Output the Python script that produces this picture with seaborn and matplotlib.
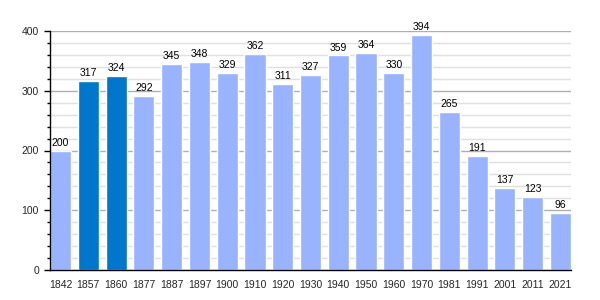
import matplotlib
matplotlib.use("Agg")
import matplotlib.pyplot as plt
import seaborn as sns
import pandas as pd
from matplotlib.ticker import MultipleLocator

years = ["1842", "1857", "1860", "1877", "1887", "1897", "1900", "1910", "1920", "1930",
         "1940", "1950", "1960", "1970", "1981", "1991", "2001", "2011", "2021"]
values = [200, 317, 324, 292, 345, 348, 329, 362, 311, 327,
          359, 364, 330, 394, 265, 191, 137, 123, 96]
highlight = ["1857", "1860"]

df = pd.DataFrame({"year": years, "value": values})
df["kind"] = ["h" if y in highlight else "n" for y in years]

sns.set_style("white")
plt.rcParams["font.family"] = ["Liberation Sans", "DejaVu Sans"]

fig = plt.figure(figsize=(6, 3), dpi=100)
ax = fig.add_axes([50/600, 0.1, 521/600, 239/300])

palette = {"n": "#99b3ff", "h": "#0077cc"}
sns.barplot(data=df, x="year", y="value", hue="kind", palette=palette, dodge=False,
            width=0.76, legend=False, ax=ax, saturation=1)

ax.set_xlim(-0.38, len(years) - 1 + 0.38)
ax.set_ylim(0, 400)
ax.yaxis.set_major_locator(MultipleLocator(100))
ax.yaxis.set_minor_locator(MultipleLocator(20))
ax.grid(axis="y", which="major", color="#b0b0b0", linewidth=1)
ax.grid(axis="y", which="minor", color="#e0e0e0", linewidth=1)
ax.set_axisbelow(True)
ax.tick_params(axis="y", which="major", left=True, length=4, width=1, color="black", labelsize=7.5, pad=4)
ax.tick_params(axis="y", which="minor", left=True, length=2, width=1, color="black")
ax.tick_params(axis="x", bottom=False, labelsize=7.5, pad=4)
for s in ["top", "right"]:
    ax.spines[s].set_visible(False)
for s in ["left", "bottom"]:
    ax.spines[s].set_color("black")
    ax.spines[s].set_linewidth(1)
ax.set_xlabel("")
ax.set_ylabel("")

for i, v in enumerate(values):
    ax.text(i, v + 5, str(v), ha="center", va="bottom", fontsize=7.5, color="black")

fig.savefig("out.png", dpi=100)
